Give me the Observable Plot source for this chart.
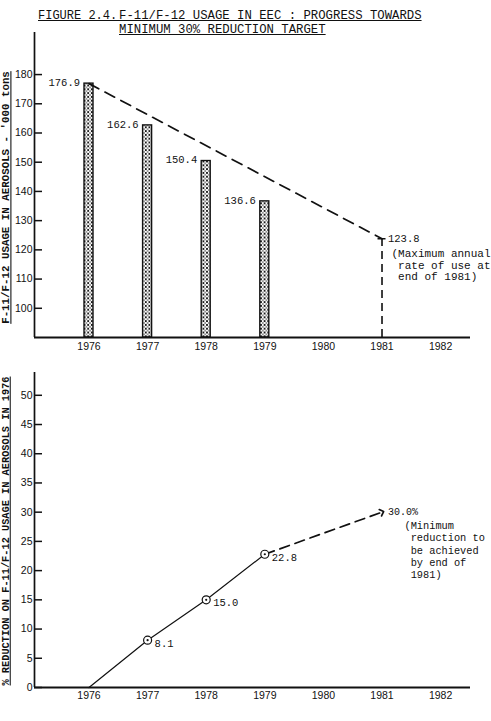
<!DOCTYPE html>
<html><head><meta charset="utf-8">
<script src="https://cdn.jsdelivr.net/npm/d3@7"></script>
<script src="https://cdn.jsdelivr.net/npm/@observablehq/plot@0.6"></script>
<style>
body{margin:0;background:#fff;}
#wrap{position:relative;width:491px;height:721px;overflow:hidden;font-family:"Liberation Mono",monospace;color:#111;background:#fff;}
.t{position:absolute;font-size:12.3px;text-decoration:underline;white-space:pre;line-height:1;}
#p1{position:absolute;left:0;top:0;}
#p2{position:absolute;left:0;top:360px;}
</style></head><body>
<div id="wrap">
<div id="p1"></div><div id="p2"></div>
<div class="t" style="left:38px;top:10px;font-size:12px">FIGURE 2.4. </div>
<div class="t" style="left:119px;top:10px">F-11/F-12 USAGE IN EEC : PROGRESS TOWARDS</div>
<div class="t" style="left:119px;top:24px">MINIMUM 30% REDUCTION TARGET</div>
</div>
<script>
// ---- data ----
const yearTicks = [1976, 1977, 1978, 1979, 1980, 1981, 1982];
const usageYears = [1976, 1977, 1978, 1979];
const usage = [176.9, 162.6, 150.4, 136.6];
const usageTargetYear = 1981;
const usageTarget = 123.8;
const usageTicks = [100, 110, 120, 130, 140, 150, 160, 170, 180];
const usageLabel = "F-11/F-12 USAGE IN AEROSOLS - '000 tons";
const usageNote = ["(Maximum annual", "\u00a0rate of use at", "\u00a0end of 1981)"];

const reductionYears = [1976, 1977, 1978, 1979];
const reduction = [0, 8.1, 15.0, 22.8];
const reductionTargetYear = 1981;
const reductionTarget = 30.0;
const reductionTicks = [0, 5, 10, 15, 20, 25, 30, 35, 40, 45, 50];
const reductionLabel = "% REDUCTION ON F-11/F-12 USAGE IN AEROSOLS IN 1976";
const reductionNote = ["(Minimum", "\u00a0reduction to", "\u00a0be achieved", "\u00a0by end of", "\u00a01981)"];

// ---- tables ----
const bars = usageYears.map((y, i) => ({year: y, value: usage[i]}));
const uTarget = {year: usageTargetYear, value: usageTarget};
const red = reductionYears.map((y, i) => ({year: y, value: reduction[i]}));
const rTarget = {year: reductionTargetYear, value: reductionTarget};

const xDomain = [1975.07, 1982.51];
const ink = "#111";
const mono = "'Liberation Mono', monospace";
const sans = "'Liberation Sans', sans-serif";
const yearFmt = d => String(d);

// ---- top chart ----
const yTop = [90, 194.4];
const p1 = Plot.plot({
  width: 491, height: 360,
  marginLeft: 34, marginRight: 21, marginTop: 32, marginBottom: 23,
  x: {domain: xDomain}, y: {domain: yTop},
  style: {fontFamily: sans, fontSize: "10.5px", color: ink, background: "transparent"},
  marks: [
    Plot.rectY(bars, {x1: "year", x2: "year", y1: yTop[0], y2: "value",
      insetLeft: -4.5, insetRight: -4.5, fill: "url(#xhatch)", stroke: ink, strokeWidth: 1.4}),
    Plot.line([bars[0], uTarget], {x: "year", y: "value", stroke: ink, strokeWidth: 1.7, strokeDasharray: "11,7"}),
    Plot.ruleX([uTarget], {x: "year", y1: yTop[0], y2: "value", stroke: ink, strokeWidth: 1.6, strokeDasharray: "8,5"}),
    Plot.ruleY([uTarget], {y: "value", x1: "year", x2: "year", insetLeft: -4, insetRight: -4, stroke: ink, strokeWidth: 1.5}),
    Plot.text(bars, {x: "year", y: "value", text: d => d.value.toFixed(1), textAnchor: "end",
      dx: -9, dy: -1, fontFamily: mono, fontSize: 10.5, fill: ink}),
    Plot.text([uTarget], {x: "year", y: "value", text: d => d.value.toFixed(1), textAnchor: "start",
      dx: 6, dy: 0, fontFamily: mono, fontSize: 10.5, fill: ink}),
    Plot.text([uTarget], {x: "year", y: "value", text: () => usageNote.join("\n"), textAnchor: "start",
      lineAnchor: "top", lineHeight: 1.05, dx: 9.5, dy: 10, fontFamily: mono, fontSize: 11, fill: ink}),
    Plot.ruleY(usageTicks, {y: d => d, x1: xDomain[0], x2: xDomain[0], insetRight: -8, stroke: ink, strokeWidth: 1.5}),
    Plot.axisY({ticks: usageTicks, tickSize: 0, tickPadding: 2, label: null}),
    Plot.axisX({ticks: yearTicks, tickSize: 0, tickPadding: 5, tickFormat: yearFmt, label: null}),
    Plot.ruleX([xDomain[0]], {stroke: ink, strokeWidth: 1.7}),
    Plot.ruleY([yTop[0]], {stroke: ink, strokeWidth: 1.8})
  ]
});

// ---- bottom chart ----
const yBot = [0, 53.9];
const p2 = Plot.plot({
  width: 491, height: 361,
  marginLeft: 34, marginRight: 21, marginTop: 12, marginBottom: 34,
  x: {domain: xDomain}, y: {domain: yBot},
  style: {fontFamily: sans, fontSize: "10.5px", color: ink, background: "transparent"},
  marks: [
    Plot.line(red, {x: "year", y: "value", stroke: ink, strokeWidth: 1.2}),
    Plot.line([red[red.length - 1], rTarget], {x: "year", y: "value", stroke: ink, strokeWidth: 1.7,
      strokeDasharray: "10,6", markerEnd: "arrow"}),
    Plot.dot(red.slice(1), {x: "year", y: "value", r: 4, stroke: ink, fill: "white", strokeWidth: 1.2}),
    Plot.dot(red.slice(1), {x: "year", y: "value", r: 1.1, fill: ink}),
    Plot.text(red.slice(1), {x: "year", y: "value", text: d => d.value.toFixed(1), textAnchor: "start",
      dx: 7, dy: 3, fontFamily: mono, fontSize: 10.5, fill: ink}),
    Plot.text([rTarget], {x: "year", y: "value", text: d => d.value.toFixed(1) + "%", textAnchor: "start",
      dx: 6, dy: 0, fontFamily: mono, fontSize: 10, fill: ink}),
    Plot.text([rTarget], {x: "year", y: "value", text: () => reductionNote.join("\n"), textAnchor: "start",
      lineAnchor: "top", lineHeight: 1.2, dx: 22.5, dy: 8, fontFamily: mono, fontSize: 10.3, fill: ink}),
    Plot.ruleY(reductionTicks, {y: d => d, x1: xDomain[0], x2: xDomain[0], insetRight: -8, stroke: ink, strokeWidth: 1.5}),
    Plot.axisY({ticks: reductionTicks, tickSize: 0, tickPadding: 2, label: null}),
    Plot.axisX({ticks: yearTicks, tickSize: 0, tickPadding: 4, tickFormat: yearFmt, label: null}),
    Plot.ruleX([xDomain[0]], {stroke: ink, strokeWidth: 1.7}),
    Plot.ruleY([yBot[0]], {stroke: ink, strokeWidth: 1.8})
  ]
});

// hatch pattern for bars (small x's)
const defs = d3.select(p1).insert("defs", ":first-child");
const pat = defs.append("pattern").attr("id", "xhatch").attr("patternUnits", "userSpaceOnUse")
  .attr("width", 3.6).attr("height", 3.8);
pat.append("rect").attr("width", 3.6).attr("height", 3.8).attr("fill", "white");
pat.append("path").attr("d", "M0.5,0.5L3.1,3.3M3.1,0.5L0.5,3.3").attr("stroke", "#111").attr("stroke-width", 0.9).attr("fill", "none");

// rotated axis titles
function yTitle(svg, text, cx, cy, size) {
  d3.select(svg).append("text")
    .attr("transform", `translate(${cx},${cy}) rotate(-90)`)
    .attr("text-anchor", "middle").attr("dominant-baseline", "middle")
    .attr("font-family", mono).attr("font-size", size).attr("font-weight", "bold")
    .attr("fill", ink).style("text-decoration", "underline")
    .text(text);
}
yTitle(p1, usageLabel, 6.5, 197.5, 10.8);
yTitle(p2, reductionLabel, 6, 171, 10.3);

document.getElementById("p1").appendChild(p1);
document.getElementById("p2").appendChild(p2);
</script>
</body></html>
